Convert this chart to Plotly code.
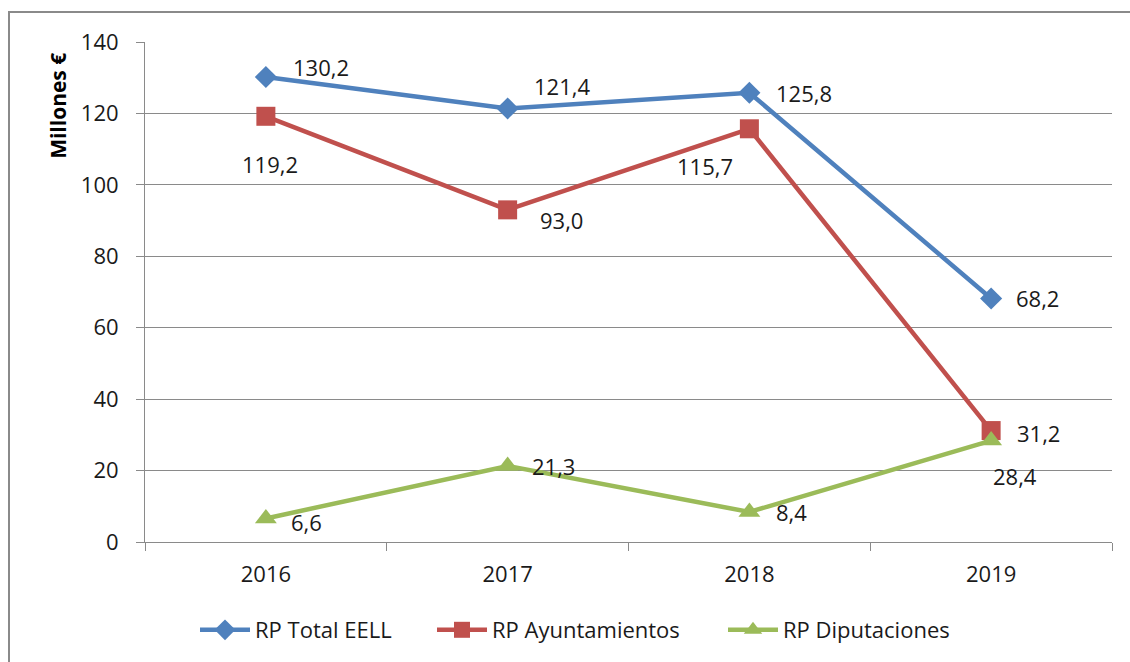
import plotly.graph_objects as go

years = ["2016", "2017", "2018", "2019"]
total_eell = [130.2, 121.4, 125.8, 68.2]
ayuntamientos = [119.2, 93.0, 115.7, 31.2]
diputaciones = [6.6, 21.3, 8.4, 28.4]
series_names = ["RP Total EELL", "RP Ayuntamientos", "RP Diputaciones"]
y_ticks = [0, 20, 40, 60, 80, 100, 120, 140]
y_title = "Millones €"

colors = ["#4F81BD", "#C0504D", "#9BBB59"]
symbols = ["diamond", "square", "triangle-up"]
msizes = [17, 19, 19]

# label offsets (pixels) for each series/point
shifts = [
    [(55, 10), (54, 22), (55, 0), (46, 0)],
    [(4, -48), (54, -10), (-44, -37), (47, -2)],
    [(41, -4), (46, 0), (42, 0), (24, -35)],
]
legend_x_px = [200, 437, 728]

FONT = "Open Sans"
TXT = "#1a1a1a"
FS = 22
PL, PR, PT, PB = 145, 1112, 42, 543
PW, PH = PR - PL, PB - PT

fig = go.Figure()
all_series = [total_eell, ayuntamientos, diputaciones]
legend_ids = ["legend", "legend2", "legend3"]
for i, vals in enumerate(all_series):
    fig.add_trace(go.Scatter(
        x=years, y=vals, name=series_names[i], mode="lines+markers",
        line=dict(color=colors[i], width=4.5),
        marker=dict(symbol=symbols[i], size=msizes[i], color=colors[i],
                    line=dict(width=0)),
        legend=legend_ids[i],
    ))

annotations = []
for i, vals in enumerate(all_series):
    for j, v in enumerate(vals):
        annotations.append(dict(
            x=j, y=v, xref="x", yref="y",
            text=f"{v:.1f}".replace(".", ","), showarrow=False,
            xshift=shifts[i][j][0], yshift=shifts[i][j][1],
            font=dict(family=FONT, size=FS, color=TXT),
        ))
annotations.append(dict(
    x=(58 - PL) / PW, y=(PB - 106) / PH, xref="paper", yref="paper",
    text=f"<b>{y_title}</b>", showarrow=False, textangle=-90,
    xanchor="center", yanchor="middle",
    font=dict(family=FONT, size=21, color="#000"),
))

legend_common = dict(orientation="h", y=(PB - 630) / PH, yanchor="middle", xanchor="left",
                     font=dict(family=FONT, size=FS, color=TXT), itemwidth=50,
                     bgcolor="rgba(0,0,0,0)")
layout_legends = {}
for i, lid in enumerate(legend_ids):
    layout_legends[lid] = dict(legend_common, x=(legend_x_px[i] - 5 - PL) / PW)

fig.update_layout(
    width=1130, height=662,
    margin=dict(l=PL, r=1130 - PR, t=PT, b=662 - PB),
    paper_bgcolor="white", plot_bgcolor="white",
    font=dict(family=FONT, size=FS, color=TXT),
    showlegend=True,
    annotations=annotations,
    shapes=[dict(type="rect", xref="paper", yref="paper",
                 x0=(9 - PL) / PW, x1=1.1, y0=-0.4, y1=(PB - 12) / PH,
                 line=dict(color="#8a8a8a", width=2), layer="below")],
    **layout_legends,
)

fig.update_xaxes(
    type="category", range=[-0.5, 3.5], showgrid=False,
    showline=True, linecolor="#8a8a8a", linewidth=1,
    ticks="outside", ticklen=8, tickcolor="#8a8a8a", tickson="boundaries",
    ticklabelstandoff=13, tickfont=dict(family=FONT, size=FS, color=TXT),
)
fig.update_yaxes(
    range=[0, 140], tickvals=y_ticks, showgrid=True, gridcolor="#8a8a8a", gridwidth=1,
    showline=True, linecolor="#8a8a8a", linewidth=1, zeroline=False,
    ticks="outside", ticklen=8, tickcolor="#8a8a8a",
    ticklabelstandoff=13, tickfont=dict(family=FONT, size=FS, color=TXT),
)

fig.write_html("out.html", config={"displayModeBar": False},
               post_script="document.body.style.margin='0';document.body.style.overflow='hidden';")
